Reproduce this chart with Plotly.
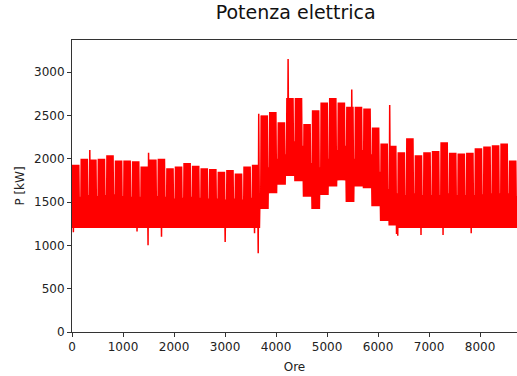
import numpy as np
import plotly.graph_objects as go

# Weekly values (kW), one per week of the year (hour 0 .. 8760)
week_peak = [1930, 2000, 1990, 2000, 2040, 1980, 1980, 1970, 1910, 1990,
             2000, 1890, 1910, 1950, 1920, 1890, 1880, 1850, 1870, 1830,
             1910, 1930, 2500, 2540, 2420, 2700, 2700, 2400, 2560, 2650,
             2700, 2650, 2600, 2600, 2580, 2360, 2175, 2150, 2075, 2235,
             2040, 2075, 2090, 2190, 2070, 2060, 2070, 2120, 2140, 2155,
             2175, 1980, 1950]
week_weekend = [1560, 1580, 1570, 1580, 1590, 1570, 1560, 1560, 1550, 1570,
                1560, 1540, 1550, 1560, 1550, 1540, 1540, 1530, 1540, 1530,
                1550, 1560, 1900, 2000, 2050, 2200, 2150, 1950, 1900, 2000,
                2100, 2150, 2000, 2100, 2050, 1850, 1650, 1600, 1580, 1600,
                1580, 1580, 1580, 1600, 1580, 1580, 1580, 1590, 1600, 1600,
                1600, 1570, 1560]
week_base = [1200, 1200, 1200, 1200, 1200, 1200, 1200, 1200, 1200, 1200,
             1200, 1200, 1200, 1200, 1200, 1200, 1200, 1200, 1200, 1200,
             1200, 1200, 1420, 1600, 1700, 1800, 1740, 1560, 1420, 1580,
             1680, 1750, 1500, 1680, 1660, 1450, 1280, 1230, 1200, 1200,
             1200, 1200, 1200, 1200, 1200, 1200, 1200, 1200, 1200, 1200,
             1200, 1200, 1200]

# Isolated peaks and dips (hour, kW)
spike_hours = [350, 1510, 3650, 4235, 5490, 6235]
spike_values = [2100, 2070, 2520, 3150, 2800, 2620]
dip_hours = [40, 1275, 1490, 1765, 3020, 3590, 3660, 6370, 6400, 6860, 7275, 7840]
dip_values = [1150, 1160, 1000, 1100, 1040, 1140, 910, 1130, 1110, 1120, 1120, 1140]

n_days = 365
day_max = []
day_min = []
for d in range(n_days):
    w = d // 7
    day_max.append(week_peak[w] if d % 7 != 6 else week_weekend[w])
    day_min.append(week_base[w])
for h, v in zip(spike_hours, spike_values):
    day_max[h // 24] = v
for h, v in zip(dip_hours, dip_values):
    day_min[h // 24] = v

x = []
y = []
for d in range(n_days):
    x += [24 * d + 3, 24 * d + 13]
    y += [day_min[d], day_max[d]]

fig = go.Figure()
fig.add_trace(go.Scatter(x=x, y=y, mode="lines",
                         line=dict(color="#ff0000", width=1.5),
                         showlegend=False, hoverinfo="skip"))

font = "DejaVu Sans"
fig.update_layout(
    width=517, height=376,
    margin=dict(l=72, r=0, t=40, b=44),
    paper_bgcolor="white", plot_bgcolor="white",
    title=dict(text="Potenza elettrica", x=0.572, xanchor="center",
               y=0.966, yanchor="middle",
               font=dict(family=font, size=19, color="#111")),
    font=dict(family=font, size=12, color="#222"),
    xaxis=dict(range=[0, 8725], tickmode="array", automargin=False,
               tickvals=[0, 1000, 2000, 3000, 4000, 5000, 6000, 7000, 8000],
               ticks="outside", ticklen=4, tickcolor="#333",
               showline=True, linecolor="#333", linewidth=1, mirror=True,
               showgrid=False, zeroline=False,
               title=dict(text="Ore", font=dict(family=font, size=12), standoff=9),
               tickfont=dict(family=font, size=12, color="#222")),
    yaxis=dict(range=[0, 3370], tickmode="array", automargin=False,
               tickvals=[0, 500, 1000, 1500, 2000, 2500, 3000],
               ticks="outside", ticklen=4, tickcolor="#333",
               showline=True, linecolor="#333", linewidth=1, mirror=False,
               showgrid=False, zeroline=False,
               title=dict(text="P [kW]", font=dict(family=font, size=12), standoff=6),
               tickfont=dict(family=font, size=12, color="#222")),
)

fig.write_html("out.html", config={"displayModeBar": False},
               post_script="document.body.style.margin='0px';")
